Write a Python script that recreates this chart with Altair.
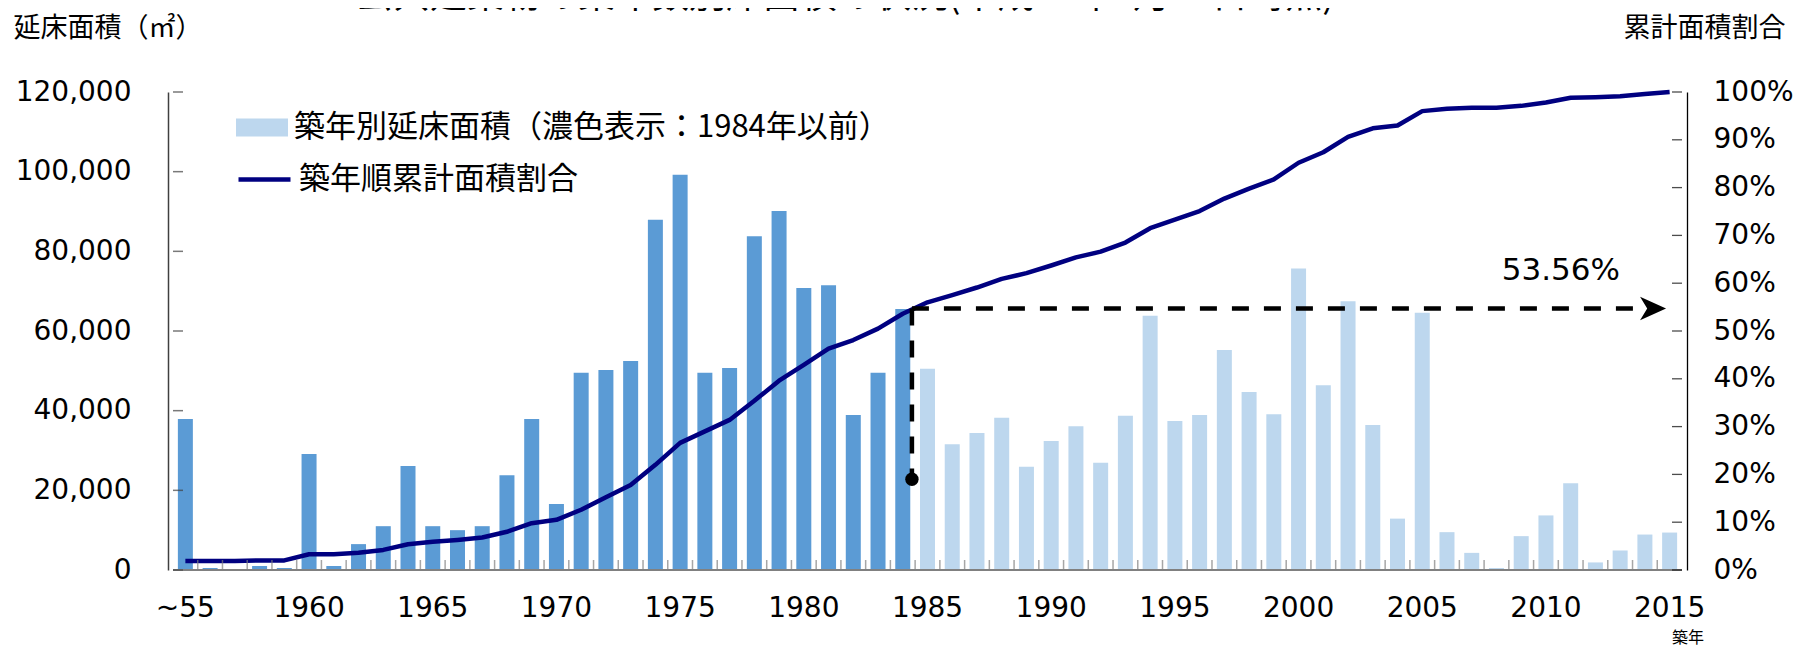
import altair as alt
import pandas as pd

# ---------------- data ----------------
years = list(range(1955, 2016))
floor_area = [37900, 500, 250, 1000, 500,
              29100, 1000, 6500, 11000, 26100,
              11000, 10000, 11000, 23800, 37900,
              16600, 49500, 50200, 52500, 87900,
              99200, 49500, 50700, 83800, 90100,
              70800, 71500, 38900, 49500, 65500,
              50500, 31600, 34400, 38200, 25900,
              32400, 36100, 26900, 38700, 63800,
              37400, 38900, 55200, 44700, 39100,
              75700, 46400, 67500, 36400, 12900,
              64600, 9500, 4300, 500, 8500,
              13700, 21800, 1900, 4900, 8900,
              9400]
cum_share_pct = [1.9, 1.9, 1.9, 2.0, 2.0,
                 3.3, 3.3, 3.6, 4.2, 5.4,
                 5.9, 6.3, 6.8, 8.0, 9.8,
                 10.5, 12.6, 15.2, 17.8, 22.0,
                 26.6, 29.0, 31.4, 35.4, 39.6,
                 42.9, 46.3, 48.1, 50.5, 53.6,
                 56.0, 57.5, 59.1, 60.9, 62.1,
                 63.7, 65.4, 66.6, 68.5, 71.5,
                 73.3, 75.1, 77.7, 79.8, 81.7,
                 85.2, 87.4, 90.6, 92.4, 93.0,
                 96.0, 96.5, 96.7, 96.7, 97.1,
                 97.8, 98.8, 98.9, 99.1, 99.6,
                 100.0]
cutoff_year = 1984

label_years = [1955, 1960, 1965, 1970, 1975, 1980, 1985, 1990, 1995, 2000, 2005, 2010, 2015]
x_tick_labels = ["~55", "1960", "1965", "1970", "1975", "1980", "1985", "1990",
                 "1995", "2000", "2005", "2010", "2015"]
left_tick_values = [0, 20000, 40000, 60000, 80000, 100000, 120000]
right_tick_values = [0, 0.1, 0.2, 0.3, 0.4, 0.5, 0.6, 0.7, 0.8, 0.9, 1.0]

title_text = ["公共建築物の築年数別床面積の状況(平成27年3月31日時点)"]
title_year = [1961.9]
left_title = "延床面積（㎡）"
right_title = "累計面積割合"
x_title = ["築年"]
x_title_year = [2015.74]
bar_label = "築年別延床面積（濃色表示：1984年以前）"
line_label = "築年順累計面積割合"

# annotation (as drawn in the reference)
annot_text = ["53.56%"]
annot_marker_year = [1984.37]
annot_dot_share = [0.19]
annot_level_share = [0.547]
annot_arrow_year = [2014.33]
annot_text_year = [2010.6]
annot_text_share = [0.6255]

# ---------------- tables ----------------
X_MIN, X_MAX = 1954.5, 2015.5

df = pd.DataFrame({
    "year": years,
    "area": floor_area,
    "share": [v / 100 for v in cum_share_pct],
    "bar_series": bar_label,
    "line_series": line_label,
})
annot = pd.DataFrame({
    "x": annot_marker_year,
    "y": annot_dot_share,
    "y2": annot_level_share,
    "xa": annot_arrow_year,
    "xt": annot_text_year,
    "yt": annot_text_share,
    "t": annot_text,
})
xlab = pd.DataFrame({"year": label_years, "label": x_tick_labels})
xtitle = pd.DataFrame({"year": x_title_year, "label": x_title})
ttl = pd.DataFrame({"year": title_year, "label": title_text})
edges = pd.DataFrame({"x0": [X_MIN], "x1": [X_MAX]})
left_df = pd.DataFrame({"v": left_tick_values, "edge": X_MIN})
right_df = pd.DataFrame({"v": right_tick_values, "edge": X_MAX})

LABEL_FONT = "DejaVu Sans"
JP_FONT = "Noto Sans CJK JP"

x_scale = alt.Scale(domain=[X_MIN, X_MAX], nice=False, zero=False)
area_scale = alt.Scale(domain=[0, 120000], nice=False, zero=True)
share_scale = alt.Scale(domain=[0, 1], nice=False, zero=True)

left_axis = alt.Axis(values=left_tick_values, format=",.0f", ticks=False,
                     labelPadding=37, labelFont=LABEL_FONT, labelFontSize=28,
                     labelColor="#000", labelFlush=False,
                     domainColor="#404040", domainWidth=1.5, grid=False,
                     title=left_title, titleFont=JP_FONT, titleFontSize=27,
                     titleFontWeight="normal", titleColor="#000", titleAngle=0,
                     titleAlign="left", titleBaseline="alphabetic",
                     titleX=-155, titleY=-55.5)

right_axis = alt.Axis(orient="right", values=right_tick_values, format=".0%",
                      ticks=False, labelPadding=26,
                      labelFont=LABEL_FONT, labelFontSize=28, labelColor="#000",
                      labelFlush=False, domainColor="#000", domainWidth=1.3,
                      grid=False, title=right_title, titleFont=JP_FONT,
                      titleFontSize=27, titleFontWeight="normal", titleColor="#000",
                      titleAngle=0, titleAlign="left", titleBaseline="alphabetic",
                      titleX=-64, titleY=-55.5)

base = alt.Chart(df)

dark_bars = base.transform_filter(f"datum.year <= {cutoff_year}").mark_bar(
    size=15, color="#5B9BD5"
).encode(
    x=alt.X("year:Q", scale=x_scale, axis=None),
    y=alt.Y("area:Q", scale=area_scale, axis=left_axis),
)

light_bars = base.transform_filter(f"datum.year > {cutoff_year}").mark_bar(
    size=15
).encode(
    x=alt.X("year:Q", scale=x_scale, axis=None),
    y=alt.Y("area:Q", scale=area_scale, axis=None),
    fill=alt.Fill("bar_series:N",
                  scale=alt.Scale(domain=[bar_label], range=["#BDD7EE"]),
                  legend=alt.Legend(orient="none", legendX=68, legendY=9.5,
                                    title=None,
                                    symbolType="M-1,-0.35H1V0.35H-1Z",
                                    symbolSize=2704, symbolStrokeWidth=0,
                                    symbolOpacity=1,
                                    labelFont=JP_FONT, labelFontSize=31,
                                    labelColor="#000", labelLimit=1500,
                                    labelOffset=6, padding=0)),
)

line = base.mark_line(strokeWidth=4.5, strokeJoin="round").encode(
    x=alt.X("year:Q", scale=x_scale, axis=None),
    y=alt.Y("share:Q", scale=share_scale, axis=right_axis),
    stroke=alt.Stroke("line_series:N",
                      scale=alt.Scale(domain=[line_label], range=["#000080"]),
                      legend=alt.Legend(orient="none", legendX=68, legendY=59,
                                        title=None, symbolType="stroke",
                                        symbolSize=2704, symbolStrokeWidth=4.5,
                                        labelFont=JP_FONT, labelFontSize=31,
                                        labelColor="#000", labelLimit=1500,
                                        labelOffset=6, padding=0)),
)

# bottom axis: baseline, inward ticks, labels, title
x_domain = alt.Chart(edges).mark_rule(color="#808080", strokeWidth=2).encode(
    x=alt.X("x0:Q", scale=x_scale, axis=None),
    x2="x1:Q",
    y=alt.YDatum(0, scale=share_scale, axis=None),
)

bottom_ticks = base.transform_filter("datum.year < 2015").transform_calculate(
    b="datum.year + 0.5"
).mark_tick(orient="vertical", size=10, thickness=1.5, yOffset=-5,
            color="#808080").encode(
    x=alt.X("b:Q", scale=x_scale, axis=None),
    y=alt.YDatum(0, scale=share_scale, axis=None),
)

x_labels = alt.Chart(xlab).mark_text(
    font=LABEL_FONT, fontSize=28, color="#000", align="center",
    baseline="middle", dy=39
).encode(
    x=alt.X("year:Q", scale=x_scale, axis=None),
    y=alt.YDatum(0, scale=share_scale, axis=None),
    text="label:N",
)

x_title_mark = alt.Chart(xtitle).mark_text(
    font=JP_FONT, fontSize=16, color="#000", align="center",
    baseline="middle", dy=68
).encode(
    x=alt.X("year:Q", scale=x_scale, axis=None),
    y=alt.YDatum(0, scale=share_scale, axis=None),
    text="label:N",
)

# chart title (cut off by the top edge, as in the reference)
title_mark = alt.Chart(ttl).mark_text(
    font=JP_FONT, fontSize=37, color="#000", align="left",
    baseline="alphabetic", dy=-84
).encode(
    x=alt.X("year:Q", scale=x_scale, axis=None),
    y=alt.YDatum(1, scale=share_scale, axis=None),
    text="label:N",
)

# inward y-axis ticks
left_ticks = alt.Chart(left_df).mark_tick(
    orient="horizontal", size=10, thickness=1.5, xOffset=5, color="#404040"
).encode(
    x=alt.X("edge:Q", scale=x_scale, axis=None),
    y=alt.Y("v:Q", scale=area_scale, axis=None),
)

right_ticks = alt.Chart(right_df).mark_tick(
    orient="horizontal", size=10, thickness=1.3, xOffset=-5, color="#000"
).encode(
    x=alt.X("edge:Q", scale=x_scale, axis=None),
    y=alt.Y("v:Q", scale=share_scale, axis=None),
)

ann = alt.Chart(annot)
vdash = ann.mark_rule(strokeDash=[17, 15], strokeWidth=4.5, color="#000").encode(
    x=alt.X("x:Q", scale=x_scale, axis=None),
    y=alt.Y("y2:Q", scale=share_scale, axis=None),
    y2="y:Q",
)
hdash = ann.mark_rule(strokeDash=[17, 15], strokeWidth=4.5, color="#000").encode(
    x=alt.X("x:Q", scale=x_scale, axis=None),
    x2="xa:Q",
    y=alt.Y("y2:Q", scale=share_scale, axis=None),
)
dot = ann.mark_point(shape="circle", filled=True, size=180, color="#000",
                     opacity=1).encode(
    x=alt.X("x:Q", scale=x_scale, axis=None),
    y=alt.Y("y:Q", scale=share_scale, axis=None),
)
arrow = ann.mark_point(shape="M1,0L-1,-0.9L-0.45,0L-1,0.9Z", filled=True,
                       size=676, color="#000", opacity=1).encode(
    x=alt.X("xa:Q", scale=x_scale, axis=None),
    y=alt.Y("y2:Q", scale=share_scale, axis=None),
)
ann_text = ann.mark_text(font=LABEL_FONT, fontSize=31, color="#000",
                         align="center", baseline="middle").encode(
    x=alt.X("xt:Q", scale=x_scale, axis=None),
    y=alt.Y("yt:Q", scale=share_scale, axis=None),
    text="t:N",
)

chart = alt.layer(
    dark_bars, light_bars, line, x_domain, bottom_ticks, x_labels, x_title_mark,
    title_mark, left_ticks, right_ticks, vdash, hdash, dot, arrow, ann_text
).resolve_scale(
    y="independent"
).properties(
    width=1519,
    height=478,
    autosize=alt.AutoSizeParams(type="none"),
    padding={"left": 160, "top": 84, "right": 107, "bottom": 80},
).configure_view(stroke=None)

chart.save("out.html", embed_options={"renderer": "svg", "actions": False})
